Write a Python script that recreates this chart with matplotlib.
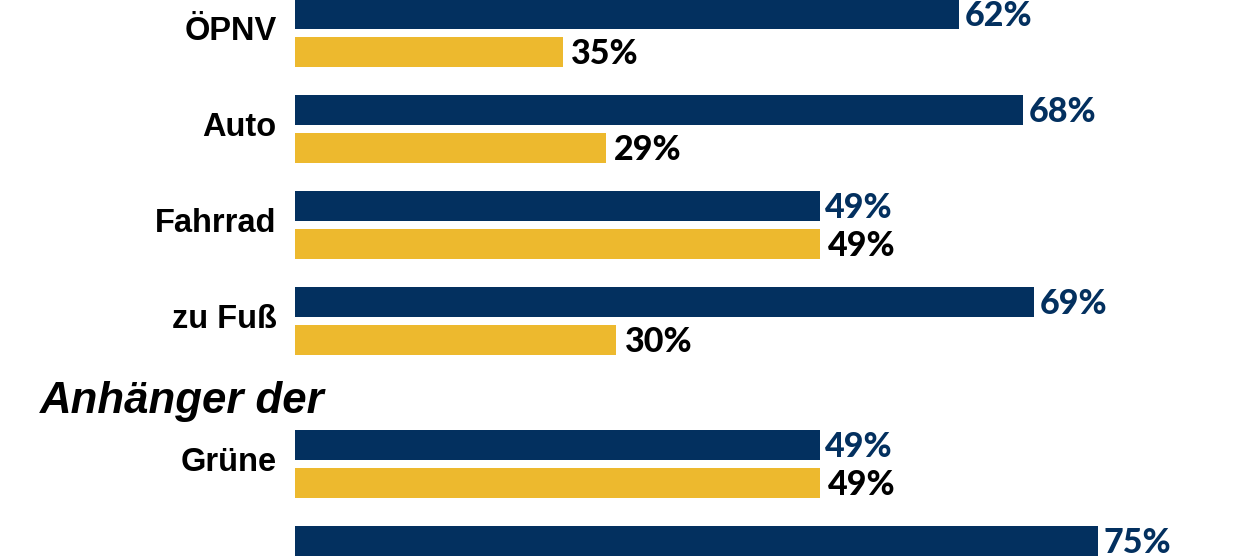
import numpy as np
import matplotlib.pyplot as plt

# Zustimmung nach Hauptverkehrsmittel / Parteianhängern
categories = ['ÖPNV', 'Auto', 'Fahrrad', 'zu Fuß', 'Grüne']
dark_values = [62, 68, 49, 69, 49, 75]
dark_labels = ['62%', '68%', '49%', '69%', '49%', '75%']
# bar lengths as drawn in the picture (ÖPNV bar is shorter than its label says)
yellow_values = [25, 29, 49, 30, 49]
yellow_labels = ['35%', '29%', '49%', '30%', '49%']
heading = 'Anhänger der'

navy = '#03305f'
gold = '#edb92e'

# group slots, the heading takes half a slot before "Grüne"
group_pos = np.array([0, 1, 2, 3, 4.49, 5.49])
heading_pos = 3.84
off = 0.198
h = 0.315

fig = plt.figure(figsize=(12.41, 5.58), dpi=100)
ax = fig.add_axes([0, 0, 1, 1])

ax.barh(group_pos[:len(dark_values)] - off, dark_values, height=h, color=navy)
ax.barh(group_pos[:len(yellow_values)] + off, yellow_values, height=h, color=gold)

for y, v, lab in zip(group_pos - off, dark_values, dark_labels):
    ax.text(v + 0.5, y + 0.02, lab, va='center', ha='left', color=navy,
            fontsize=24.5, fontfamily='Lato', fontweight=900)
for y, v, lab in zip(group_pos + off, yellow_values, yellow_labels):
    ax.text(v + 0.8, y + 0.02, lab, va='center', ha='left', color='black',
            fontsize=24.5, fontfamily='Lato', fontweight=900)

for y, c in zip(group_pos, categories):
    ax.text(-1.7, y - 0.02, c, va='center', ha='right', color='black',
            fontsize=23.5, fontfamily='Liberation Sans', fontweight='bold')

ax.text(-23.8, heading_pos, heading, va='center', ha='left', color='black',
        fontsize=31.5, fontfamily='Liberation Sans', fontweight='bold', fontstyle='italic')

ax.set_xlim(-295 / 10.71, (1241 - 295) / 10.71)
ax.set_ylim(5.469, -0.344)
ax.axis('off')

plt.savefig('out.png', dpi=100)
